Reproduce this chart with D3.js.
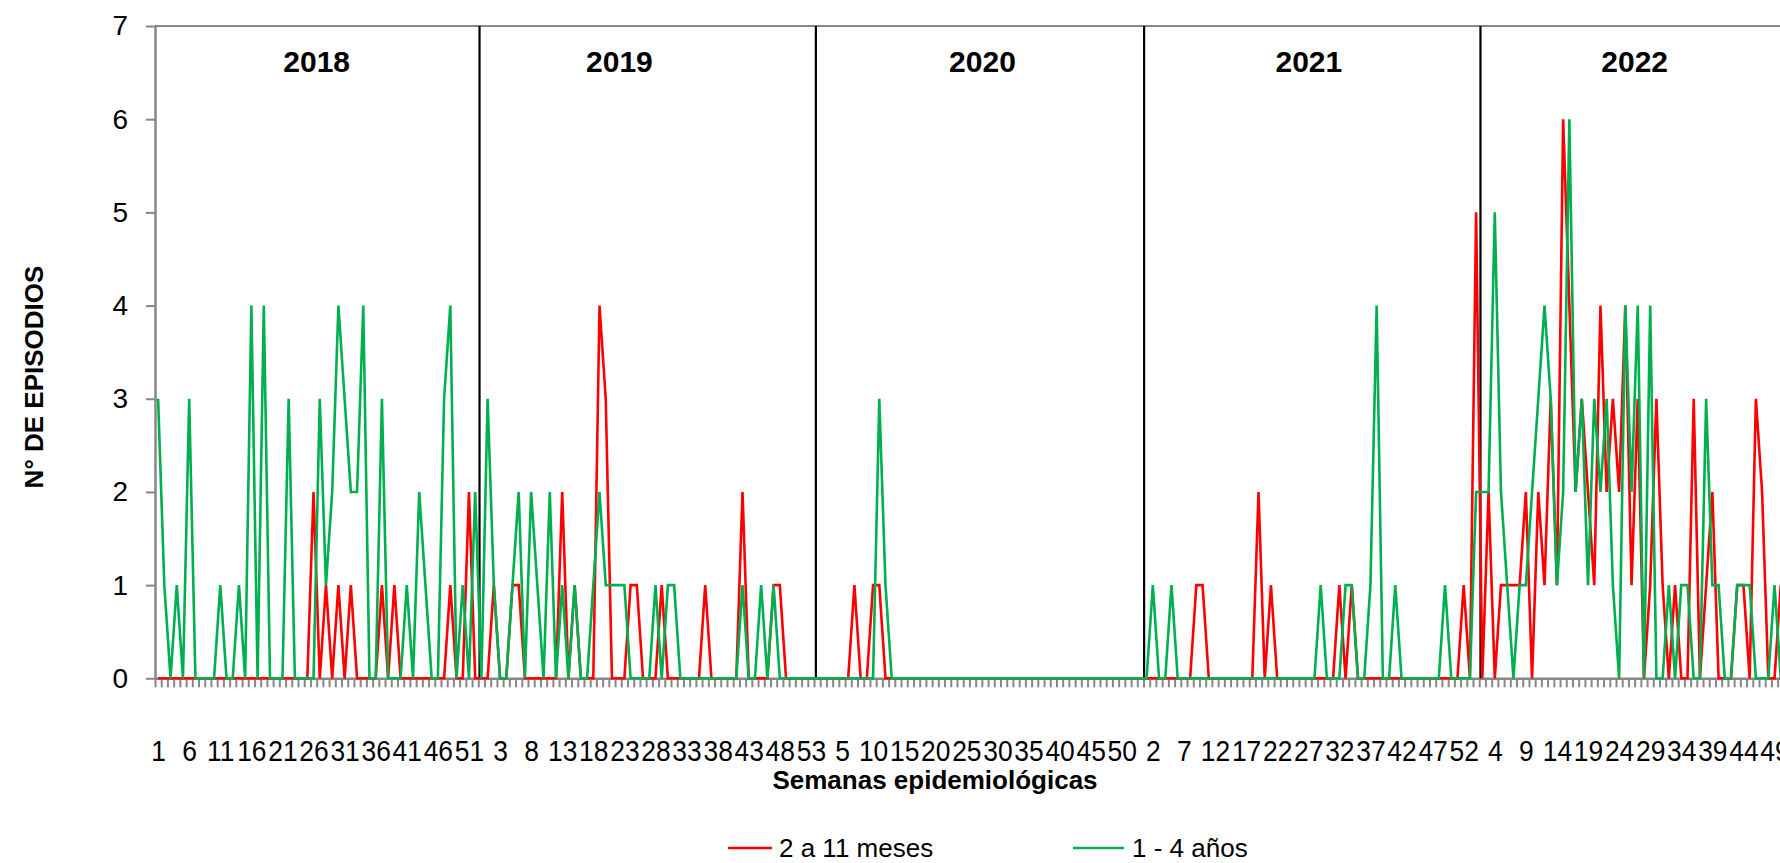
<!DOCTYPE html>
<html>
<head>
<meta charset="utf-8">
<script src="https://cdn.jsdelivr.net/npm/d3@7"></script>
<style>
  html, body { margin: 0; padding: 0; background: #fff; }
  svg { display: block; }
  text { font-family: "Liberation Sans", Arial, Helvetica, sans-serif; fill: #000; }
</style>
</head>
<body>
<svg id="chart" width="1780" height="863"></svg>
<script>
// Epidemiological weeks per year shown on the category axis
const years = [2018, 2019, 2020, 2021, 2022];
const weeksPerYear = [53, 53, 53, 53, 53];

// Weekly episodes, age group "2 a 11 meses"
const meses2018 = [0,0,0,0,0, 0,0,0,0,0, 0,0,0,0,0, 0,0,0,0,0, 0,0,0,0,0, 2,0,1,0,1, 0,1,0,0,0, 0,1,0,1,0, 0,0,0,0,0, 0,0,1,0,0, 2,0,0];
const meses2019 = [0,1,0,0,1, 1,0,0,0,0, 0,0,2,0,1, 0,0,0,4,3, 0,0,0,1,1, 0,0,0,1,0, 0,0,0,0,0, 1,0,0,0,0, 0,2,0,0,0, 0,1,1,0,0, 0,0,0];
const meses2020 = [0,0,0,0,0, 0,1,0,0,1, 1,0,0,0,0, 0,0,0,0,0, 0,0,0,0,0, 0,0,0,0,0, 0,0,0,0,0, 0,0,0,0,0, 0,0,0,0,0, 0,0,0,0,0, 0,0,0];
const meses2021 = [0,0,0,0,0, 0,0,0,1,1, 0,0,0,0,0, 0,0,0,2,0, 1,0,0,0,0, 0,0,0,0,0, 0,1,0,1,0, 0,0,0,0,0, 0,0,0,0,0, 0,0,0,0,0, 0,1,0];
const meses2022 = [5,0,2,0,1, 1,1,1,2,0, 2,1,3,1,6, 4,2,3,2,1, 4,2,3,2,4, 1,3,0,1,3, 1,0,1,0,0, 3,0,1,2,0, 0,0,1,1,0, 3,2,0,0,1];

// Weekly episodes, age group "1 - 4 años"
const anios2018 = [3,1,0,1,0, 3,0,0,0,0, 1,0,0,1,0, 4,0,4,0,0, 0,3,0,0,0, 0,3,1,2,4, 3,2,2,4,0, 0,3,0,0,0, 1,0,2,1,0, 0,3,4,0,1, 0,2,0];
const anios2019 = [3,1,0,0,1, 2,0,2,1,0, 2,0,1,0,1, 0,0,1,2,1, 1,1,1,0,0, 0,0,1,0,1, 1,0,0,0,0, 0,0,0,0,0, 0,1,0,0,1, 0,1,0,0,0, 0,0,0];
const anios2020 = [0,0,0,0,0, 0,0,0,0,0, 3,1,0,0,0, 0,0,0,0,0, 0,0,0,0,0, 0,0,0,0,0, 0,0,0,0,0, 0,0,0,0,0, 0,0,0,0,0, 0,0,0,0,0, 0,0,0];
const anios2021 = [0,1,0,0,1, 0,0,0,0,0, 0,0,0,0,0, 0,0,0,0,0, 0,0,0,0,0, 0,0,0,1,0, 0,0,1,1,0, 0,1,4,0,0, 1,0,0,0,0, 0,0,0,1,0, 0,0,0];
const anios2022 = [2,2,2,5,2, 1,0,1,1,2, 3,4,3,1,2, 6,2,3,1,3, 2,3,1,0,4, 2,4,0,4,0, 0,1,0,1,1, 0,0,3,1,1, 0,0,1,1,1, 0,0,0,1,0];

// Year dividers (category-index units) and week at which each year's title sits
const yearDividers = [51.7, 105.8, 158.6, 212.7];
const yearTitleWeek = [26.5, 22.2, 27.6, 27.1, 26.5];

const yTicks = [0, 1, 2, 3, 4, 5, 6, 7];

const seriesNames = ["2 a 11 meses", "1 - 4 años"];
const seriesColors = ["#ff0000", "#00b050"];

// ---------------------------------------------------------------------------
const W = 1780, H = 863;
const svg = d3.select("#chart");
const axisColor = "#878787";

const plotLeft = 155, plotTop = 26, plotBottom = 678.3, bandWidth = 6.217;

// flat list of (year, week) categories
const categories = [];
years.forEach((yr, k) => {
  for (let w = 1; w <= weeksPerYear[k]; w++) categories.push({ year: yr, week: w });
});
const N = categories.length;
const yearStart = years.map((_, k) => d3.sum(weeksPerYear.slice(0, k)));

const x = d3.scaleLinear().domain([-0.5, N - 0.5]).range([plotLeft, plotLeft + N * bandWidth]);
const y = d3.scaleLinear().domain([0, 7]).range([plotBottom, plotTop]);

const meses = [].concat(meses2018, meses2019, meses2020, meses2021, meses2022);
const anios = [].concat(anios2018, anios2019, anios2020, anios2021, anios2022);

// top frame line
svg.append("line")
  .attr("x1", plotLeft).attr("x2", W + 10)
  .attr("y1", y(7)).attr("y2", y(7))
  .attr("stroke", axisColor).attr("stroke-width", 2);

// x axis: minor ticks between categories
const gxMinor = svg.append("g")
  .attr("transform", `translate(0,${plotBottom})`)
  .call(d3.axisBottom(x)
    .tickValues(d3.range(N + 1).map(i => i - 0.5))
    .tickSize(9).tickSizeOuter(0).tickFormat(""));
gxMinor.select(".domain").attr("stroke", axisColor).attr("stroke-width", 2.5);
gxMinor.selectAll(".tick line").attr("stroke", axisColor).attr("stroke-width", 2);

// x axis: week labels every five categories (slightly condensed glyphs)
const gxLab = svg.append("g")
  .attr("transform", `translate(0,${plotBottom})`)
  .call(d3.axisBottom(x)
    .tickValues(d3.range(0, N, 5))
    .tickSize(0).tickPadding(61)
    .tickFormat(i => categories[i].week));
gxLab.select(".domain").remove();
gxLab.selectAll("text")
  .attr("font-size", 30)
  .attr("fill", "#000")
  .attr("transform", "scale(0.88,1)");

// y axis
const gy = svg.append("g")
  .attr("transform", `translate(${plotLeft},0)`)
  .call(d3.axisLeft(y).tickValues(yTicks).tickFormat(d3.format("d"))
    .tickSize(9).tickPadding(18).tickSizeOuter(0));
gy.select(".domain").attr("stroke", axisColor).attr("stroke-width", 2.5);
gy.selectAll(".tick line").attr("stroke", axisColor).attr("stroke-width", 2);
gy.selectAll("text").attr("font-size", 28).attr("fill", "#000");

// year dividers
svg.append("g").selectAll("line")
  .data(yearDividers).join("line")
  .attr("x1", d => x(d)).attr("x2", d => x(d))
  .attr("y1", y(7)).attr("y2", y(0))
  .attr("stroke", "#000").attr("stroke-width", 2.2);

// year titles
svg.append("g").selectAll("text")
  .data(years).join("text")
  .attr("x", (d, k) => x(yearStart[k] + yearTitleWeek[k] - 1))
  .attr("y", 71.5)
  .attr("text-anchor", "middle")
  .attr("font-size", 30).attr("font-weight", "bold")
  .text(d => d);

// series lines
const line = d3.line().x((d, i) => x(i)).y(d => y(d));
[meses, anios].forEach((vals, k) => {
  svg.append("path")
    .datum(vals)
    .attr("d", line)
    .attr("fill", "none")
    .attr("stroke", seriesColors[k])
    .attr("stroke-width", 2.6)
    .attr("stroke-linejoin", "miter");
});

// axis titles
svg.append("text")
  .attr("x", 935).attr("y", 789)
  .attr("text-anchor", "middle")
  .attr("font-size", 26).attr("font-weight", "bold")
  .text("Semanas epidemiológicas");

svg.append("text")
  .attr("transform", "translate(43,377) rotate(-90)")
  .attr("text-anchor", "middle")
  .attr("font-size", 26).attr("font-weight", "bold")
  .text("N° DE EPISODIOS");

// legend
const legendX = [728, 1073];
const legend = svg.append("g").selectAll("g")
  .data(seriesNames).join("g")
  .attr("transform", (d, k) => `translate(${legendX[k]},848)`);
legend.append("line")
  .attr("x1", 0).attr("x2", (d, k) => k === 0 ? 44 : 51)
  .attr("y1", 0).attr("y2", 0)
  .attr("stroke", (d, k) => seriesColors[k]).attr("stroke-width", 2.6);
legend.append("text")
  .attr("x", (d, k) => k === 0 ? 51 : 59)
  .attr("dy", "0.35em")
  .attr("font-size", 26)
  .text(d => d);
</script>
</body>
</html>
